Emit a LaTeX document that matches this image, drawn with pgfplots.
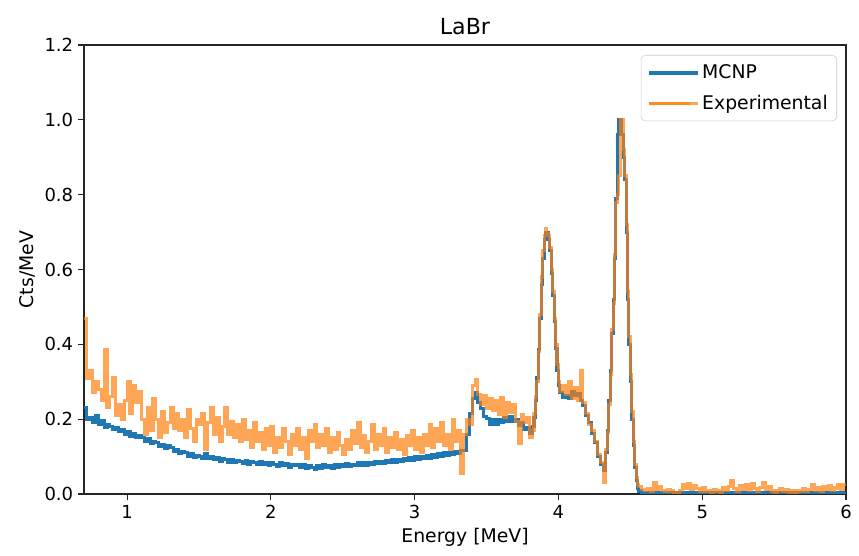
\documentclass[border=0pt]{standalone}
\usepackage{fontspec}
\setmainfont{DejaVu Sans}
\usepackage{pgfplots}
\pgfplotsset{compat=1.18}
\usepackage{pgfplotstable}
\definecolor{mplblue}{HTML}{1F77B4}
\definecolor{mplorange}{HTML}{FF7F0E}
\pgfplotsset{mpl legend/.style={legend image code/.code={%
  \draw[##1] (0pt,0pt) -- (0.41in,0pt); \path (0in,0pt) -- (0.49in,0pt);}}}

% bin left edge, MCNP, experimental (normalised counts)
\pgfplotstableread{
E M X
0.70 0.230 0.470
0.72 0.200 0.310
0.74 0.205 0.330
0.76 0.190 0.270
0.78 0.210 0.300
0.80 0.185 0.280
0.82 0.196 0.250
0.84 0.178 0.385
0.86 0.186 0.230
0.88 0.181 0.260
0.90 0.172 0.310
0.92 0.179 0.210
0.94 0.168 0.240
0.96 0.172 0.200
0.98 0.160 0.250
1.00 0.166 0.300
1.02 0.155 0.215
1.04 0.161 0.290
1.06 0.150 0.245
1.08 0.156 0.275
1.10 0.152 0.200
1.12 0.141 0.160
1.14 0.147 0.230
1.16 0.134 0.170
1.18 0.141 0.255
1.20 0.137 0.200
1.22 0.128 0.150
1.24 0.133 0.220
1.26 0.121 0.165
1.28 0.129 0.190
1.30 0.125 0.230
1.32 0.113 0.175
1.34 0.120 0.215
1.36 0.108 0.170
1.38 0.114 0.200
1.40 0.110 0.150
1.42 0.101 0.225
1.44 0.107 0.175
1.46 0.098 0.140
1.48 0.104 0.200
1.50 0.100 0.185
1.52 0.094 0.215
1.54 0.108 0.120
1.56 0.095 0.190
1.58 0.101 0.230
1.60 0.091 0.160
1.62 0.098 0.205
1.64 0.088 0.140
1.66 0.095 0.180
1.68 0.092 0.230
1.70 0.085 0.160
1.72 0.093 0.195
1.74 0.084 0.150
1.76 0.090 0.185
1.78 0.087 0.140
1.80 0.081 0.200
1.82 0.089 0.145
1.84 0.080 0.170
1.86 0.087 0.125
1.88 0.083 0.190
1.90 0.078 0.140
1.92 0.086 0.165
1.94 0.079 0.120
1.96 0.085 0.175
1.98 0.077 0.130
2.00 0.084 0.180
2.02 0.080 0.110
2.04 0.074 0.150
2.06 0.083 0.125
2.08 0.076 0.175
2.10 0.081 0.140
2.12 0.072 0.105
2.14 0.080 0.160
2.16 0.075 0.130
2.18 0.079 0.175
2.20 0.070 0.120
2.22 0.078 0.150
2.24 0.068 0.095
2.26 0.077 0.170
2.28 0.072 0.140
2.30 0.066 0.185
2.32 0.076 0.125
2.34 0.069 0.160
2.36 0.078 0.130
2.38 0.071 0.175
2.40 0.075 0.110
2.42 0.068 0.150
2.44 0.079 0.120
2.46 0.072 0.165
2.48 0.078 0.130
2.50 0.074 0.105
2.52 0.081 0.145
2.54 0.073 0.120
2.56 0.080 0.170
2.58 0.076 0.135
2.60 0.083 0.190
2.62 0.077 0.125
2.64 0.084 0.155
2.66 0.076 0.110
2.68 0.085 0.140
2.70 0.079 0.185
2.72 0.088 0.120
2.74 0.081 0.160
2.76 0.087 0.130
2.78 0.082 0.175
2.80 0.090 0.110
2.82 0.084 0.150
2.84 0.091 0.125
2.86 0.085 0.165
2.88 0.093 0.120
2.90 0.087 0.145
2.92 0.095 0.105
2.94 0.089 0.155
2.96 0.097 0.130
2.98 0.090 0.170
3.00 0.099 0.120
3.02 0.092 0.150
3.04 0.101 0.110
3.06 0.094 0.160
3.08 0.104 0.130
3.10 0.096 0.185
3.12 0.106 0.125
3.14 0.098 0.175
3.16 0.108 0.140
3.18 0.101 0.190
3.20 0.110 0.130
3.22 0.103 0.160
3.24 0.112 0.120
3.26 0.105 0.200
3.28 0.114 0.140
3.30 0.107 0.170
3.32 0.117 0.055
3.34 0.115 0.160
3.36 0.160 0.200
3.38 0.215 0.185
3.40 0.255 0.290
3.42 0.270 0.305
3.44 0.245 0.265
3.46 0.228 0.240
3.48 0.208 0.262
3.50 0.202 0.228
3.52 0.186 0.255
3.54 0.198 0.222
3.56 0.185 0.250
3.58 0.198 0.212
3.60 0.190 0.258
3.62 0.204 0.205
3.64 0.195 0.245
3.66 0.208 0.218
3.68 0.193 0.238
3.70 0.199 0.195
3.72 0.183 0.135
3.74 0.190 0.212
3.76 0.172 0.190
3.78 0.178 0.205
3.80 0.163 0.150
3.82 0.180 0.170
3.83 0.205 0.215
3.84 0.250 0.260
3.85 0.310 0.300
3.86 0.385 0.380
3.87 0.470 0.480
3.88 0.560 0.580
3.89 0.630 0.650
3.90 0.680 0.690
3.91 0.700 0.710
3.92 0.700 0.695
3.93 0.680 0.690
3.94 0.650 0.660
3.95 0.590 0.600
3.96 0.530 0.540
3.97 0.460 0.470
3.98 0.390 0.400
3.99 0.330 0.345
4.00 0.290 0.300
4.01 0.270 0.275
4.03 0.258 0.290
4.05 0.264 0.265
4.07 0.256 0.300
4.09 0.274 0.255
4.11 0.264 0.285
4.13 0.268 0.250
4.15 0.250 0.330
4.17 0.236 0.245
4.19 0.210 0.215
4.21 0.192 0.185
4.23 0.162 0.170
4.25 0.138 0.140
4.27 0.100 0.105
4.29 0.078 0.085
4.31 0.062 0.030
4.33 0.110 0.120
4.34 0.170 0.165
4.35 0.250 0.240
4.36 0.330 0.320
4.37 0.430 0.440
4.38 0.520 0.510
4.39 0.630 0.640
4.40 0.790 0.780
4.41 0.960 0.800
4.42 1.000 0.850
4.43 1.000 1.000
4.44 0.960 1.000
4.45 0.900 0.920
4.46 0.840 0.850
4.47 0.700 0.720
4.48 0.520 0.540
4.49 0.400 0.420
4.50 0.300 0.320
4.51 0.200 0.220
4.52 0.130 0.140
4.53 0.070 0.080
4.54 0.035 0.045
4.55 0.015 0.025
4.56 0.008 0.020
4.58 0.004 0.012
4.60 0.003 0.010
4.62 0.004 0.015
4.64 0.002 0.008
4.66 0.003 0.030
4.68 0.004 0.012
4.70 0.003 0.020
4.72 0.002 0.010
4.74 0.003 0.006
4.76 0.004 0.012
4.78 0.003 0.008
4.80 0.002 0.005
4.82 0.003 0.004
4.84 0.002 0.010
4.86 0.004 0.025
4.88 0.003 0.015
4.90 0.002 0.028
4.92 0.003 0.012
4.94 0.004 0.022
4.96 0.003 0.014
4.98 0.002 0.008
5.00 0.003 0.018
5.02 0.002 0.006
5.04 0.003 0.010
5.06 0.004 0.005
5.08 0.003 0.012
5.10 0.002 0.008
5.12 0.003 0.004
5.14 0.002 0.016
5.16 0.003 0.010
5.18 0.004 0.020
5.20 0.003 0.035
5.22 0.002 0.015
5.24 0.003 0.008
5.26 0.002 0.022
5.28 0.003 0.012
5.30 0.004 0.025
5.32 0.003 0.010
5.34 0.002 0.028
5.36 0.003 0.014
5.38 0.002 0.006
5.40 0.003 0.018
5.42 0.004 0.030
5.44 0.003 0.012
5.46 0.002 0.020
5.48 0.003 0.008
5.50 0.002 0.004
5.52 0.003 0.010
5.54 0.004 0.014
5.56 0.003 0.006
5.58 0.002 0.012
5.60 0.003 0.005
5.62 0.002 0.008
5.64 0.003 0.004
5.66 0.002 0.010
5.68 0.003 0.006
5.70 0.004 0.015
5.72 0.003 0.008
5.74 0.002 0.012
5.76 0.003 0.025
5.78 0.002 0.010
5.80 0.003 0.018
5.82 0.004 0.008
5.84 0.003 0.020
5.86 0.002 0.012
5.88 0.003 0.022
5.90 0.002 0.010
5.92 0.003 0.016
5.94 0.004 0.024
5.96 0.003 0.012
5.98 0.002 0.025
6.00 0.002 0.025
}\spectrum

\begin{document}
\begin{tikzpicture}
\useasboundingbox (0,0) rectangle (8.59in,5.56in);
\begin{axis}[
  at={(0.84in,0.62in)}, anchor=south west,
  scale only axis, width=7.62in, height=4.49in,
  xmin=0.7, xmax=6, ymin=0, ymax=1.2,
  xtick={1,2,3,4,5,6},
  ytick={0,0.2,0.4,0.6,0.8,1.0,1.2},
  yticklabel style={/pgf/number format/.cd, fixed, fixed zerofill, precision=1},
  /pgf/number format/assume math mode=true,
  tick align=outside, major tick length=0.06in,
  xtick pos=bottom, ytick pos=left,
  axis line style={black!85, line width=0.8pt},
  tick style={black!85, line width=0.8pt},
  tick label style={font=\fontsize{13}{15}\selectfont},
  label style={font=\fontsize{13.6}{16}\selectfont},
  title={LaBr},
  title style={font=\fontsize{16}{19}\selectfont, yshift=-2pt},
  xlabel={Energy [MeV]},
  ylabel={Cts/MeV},
  legend style={at={(1,1)}, anchor=north east, xshift=-0.09in, yshift=-0.10in,
    draw=black!20, rounded corners=3pt, fill=white, fill opacity=0.8, text opacity=1,
    inner xsep=4.5pt, inner ysep=5pt, row sep=6pt,
    font=\fontsize{13.6}{16}\selectfont, cells={anchor=west}},
]
\addplot[const plot, mpl legend, draw=mplblue, line width=2.2pt]
  table[x=E, y=M] {\spectrum};
\addlegendentry{MCNP}
\addplot[const plot, mpl legend, draw=mplorange, draw opacity=0.7, line width=2.2pt]
  table[x=E, y=X] {\spectrum};
\addlegendentry{Experimental}
\end{axis}
\end{tikzpicture}
\end{document}
